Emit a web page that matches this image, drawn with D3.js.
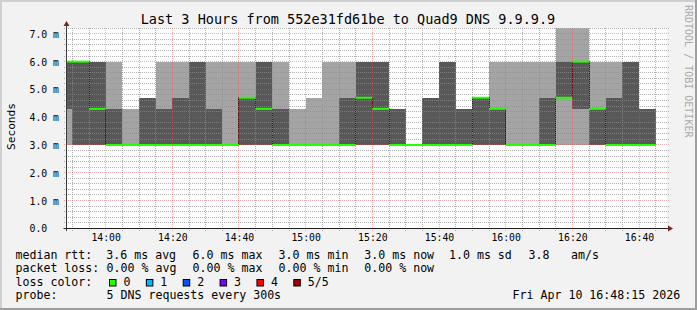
<!DOCTYPE html>
<html>
<head>
<meta charset="utf-8">
<script src="https://cdn.jsdelivr.net/npm/d3@7"></script>
<style>
    body { margin: 0; background: #f2f2f2; }
    svg { display: block; }
    text { font-family: "DejaVu Sans Mono", monospace; fill: #000; }
</style>
</head>
<body>
<div id="chart"></div>
<script>

// 5 minute bins (start time), the five sorted DNS request times in ms
const binStarts = ["13:45","13:50","13:55","14:00","14:05","14:10","14:15","14:20","14:25","14:30",
                   "14:35","14:40","14:45","14:50","14:55","15:00","15:05","15:10","15:15","15:20",
                   "15:25","15:30","15:35","15:40","15:45","15:50","15:55","16:00","16:05","16:10",
                   "16:15","16:20","16:25","16:30","16:35","16:40"]
const pingMin  = [3,3,3,3,3,3,3,3,3,3, 3,3,3,3,3,3,3,3,3,3, 3,3,3,3,3,3,3,3,3,3, 3,3,3,3,3,3]
const pingLow  = [4.3,3,3,3,3,3,3,3,3,3, 3,3,3,3,3,3,3,3,3,3, 3,3,3,3,3,3,3,3,3,3, 4.7,4.3,3,3,3,3]
const median   = [6,6,4.3,3,3,3,3,3,3,3, 3,4.7,4.3,3,3,3,3,3,4.7,4.3, 3,3,3,3,3,4.7,4.3,3,3,3, 4.7,6,4.3,3,3,3]
const pingHigh = [6,6,6,4.3,3,4.7,4.3,4.7,6,4.3, 3,4.7,6,4.3,3,3,3,4.7,6,6, 4.3,3,4.7,6,4.3,4.7,4.3,3,3,4.7, 6,6,4.3,4.7,6,4.3]
const pingMax  = [6,6,6,6,4.3,4.7,6,6,6,6, 6,6,6,6,4.3,4.7,6,6,6,6, 4.3,3,4.7,6,4.3,4.7,6,6,6,6, 7.2,7.2,6,6,6,4.3]

const yLabelValues = [0,1,2,3,4,5,6,7]
const xLabelTimes = ["14:00","14:20","14:40","15:00","15:20","15:40","16:00","16:20","16:40"]

const titleText = "Last 3 Hours from 552e31fd61be to Quad9 DNS 9.9.9.9"
const rttStats = ["3.6 ms avg", "6.0 ms max", "3.0 ms min", "3.0 ms now", "1.0 ms sd", "3.8", "am/s"]
const lossStats = ["0.00 % avg", "0.00 % max", "0.00 % min", "0.00 % now"]
const lossLabels = ["0", "1", "2", "3", "4", "5/5"]
const lossColors = ["#26ff00", "#00b8ff", "#0059ff", "#7e00ff", "#ff0000", "#a10000"]
const probeText = "5 DNS requests every 300s"
const stampText = "Fri Apr 10 16:48:15 2026"

// layout
const rttX = [106.3, 192.6, 278.6, 364.3, 449, 528.6, 571]
const lossX = [106.6, 192.6, 278.6, 364.3]
const rowY = [258.5, 272, 285.5, 299]

const timeOf = s => {
    let [h, m] = s.split(":").map(Number)
    return new Date(2026, 3, 10, h, m)
}

const W = 697, H = 310
const svg = d3.select("#chart").append("svg")
    .attr("width", W)
    .attr("height", H)

// background + 3d frame
svg.append("rect").attr("width", W).attr("height", H).attr("fill", "#f2f2f2")
svg.append("rect").attr("width", W).attr("height", 2).attr("fill", "#cfcfcf")
svg.append("rect").attr("width", 2).attr("height", H).attr("fill", "#cfcfcf")
svg.append("rect").attr("y", H - 2).attr("width", W).attr("height", 2).attr("fill", "#9e9e9e")
svg.append("rect").attr("x", W - 2).attr("width", 2).attr("height", H).attr("fill", "#9e9e9e")

// plot box
const pLeft = 66.5, pRight = 666.5, pTop = 28.3, pBottom = 228.3

// scales
let x = d3.scaleTime()
    .domain([new Date(2026, 3, 10, 13, 48, 15), new Date(2026, 3, 10, 16, 48, 15)])
    .range([pLeft, pRight])
let y = d3.scaleLinear()
    .domain([0, 7.2])
    .range([pBottom, pTop])

// canvas
svg.append("rect")
    .attr("x", 66).attr("y", 28)
    .attr("width", 601).attr("height", 201)
    .attr("fill", "#ffffff")

svg.append("clipPath").attr("id", "plotClip")
    .append("rect")
    .attr("x", pLeft).attr("y", pTop)
    .attr("width", pRight - pLeft).attr("height", pBottom - pTop)

let plot = svg.append("g").attr("clip-path", "url(#plotClip)")

let bins = binStarts.map((s, i) => ({
    t0: timeOf(s),
    t1: d3.timeMinute.offset(timeOf(s), 5),
    min: pingMin[i], low: pingLow[i], med: median[i], high: pingHigh[i], max: pingMax[i]
}))

// outer smoke (min..max)
plot.selectAll(".smoke-outer")
    .data(bins)
    .enter()
    .append("rect")
    .attr("class", "smoke-outer")
    .attr("x", d => x(d.t0))
    .attr("width", d => x(d.t1) - x(d.t0))
    .attr("y", d => y(d.max))
    .attr("height", d => y(d.min) - y(d.max))
    .attr("fill", "#a4a4a4")
    .attr("shape-rendering", "crispEdges")

// inner smoke (2nd..4th)
plot.selectAll(".smoke-inner")
    .data(bins)
    .enter()
    .append("rect")
    .attr("class", "smoke-inner")
    .attr("x", d => x(d.t0))
    .attr("width", d => x(d.t1) - x(d.t0))
    .attr("y", d => y(d.high))
    .attr("height", d => y(d.low) - y(d.high))
    .attr("fill", "#585858")
    .attr("shape-rendering", "crispEdges")

// median step line
let stepPts = bins.map(d => [d.t0, d.med])
stepPts.push([bins[bins.length - 1].t1, bins[bins.length - 1].med])
plot.append("path")
    .datum(stepPts)
    .attr("fill", "none")
    .attr("stroke", "#202020")
    .attr("stroke-width", 1)
    .attr("d", d3.line().x(d => Math.floor(x(d[0])) + 0.5).y(d => y(d[1])).curve(d3.curveStepAfter))

// grid
let grid = svg.append("g")
let minorTimes = x.ticks(d3.timeMinute.every(5)).filter(t => t.getMinutes() % 20 !== 0)
let majorTimes = x.ticks(d3.timeMinute.every(20))
let minorVals = d3.range(1, 37).map(k => k * 0.2).filter(v => Math.abs(v - Math.round(v)) > 0.01)
let majorVals = d3.range(1, 8)
const minorCol = "rgba(143,143,143,0.7)", majorCol = "rgba(222,79,79,0.45)"

grid.selectAll(".vminor").data(minorTimes).enter().append("line")
    .attr("x1", d => Math.floor(x(d)) + 0.5).attr("x2", d => Math.floor(x(d)) + 0.5)
    .attr("y1", 28).attr("y2", 231)
    .attr("stroke", minorCol).attr("stroke-dasharray", "1,1")
grid.selectAll(".hminor").data(minorVals).enter().append("line")
    .attr("y1", d => Math.floor(y(d)) + 0.5).attr("y2", d => Math.floor(y(d)) + 0.5)
    .attr("x1", 64).attr("x2", 669)
    .attr("stroke", minorCol).attr("stroke-dasharray", "1,1")
grid.selectAll(".vmajor").data(majorTimes).enter().append("line")
    .attr("x1", d => Math.floor(x(d)) + 0.5).attr("x2", d => Math.floor(x(d)) + 0.5)
    .attr("y1", 28).attr("y2", 231)
    .attr("stroke", majorCol).attr("stroke-dasharray", "1,1")
grid.selectAll(".hmajor").data(majorVals).enter().append("line")
    .attr("y1", d => Math.floor(y(d)) + 0.5).attr("y2", d => Math.floor(y(d)) + 0.5)
    .attr("x1", 64).attr("x2", 669)
    .attr("stroke", majorCol).attr("stroke-dasharray", "1,1")

// median (loss colour), on top of the grid
let medLayer = svg.append("g").attr("clip-path", "url(#plotClip)")
medLayer.selectAll(".median")
    .data(bins)
    .enter()
    .append("rect")
    .attr("class", "median")
    .attr("x", d => x(d.t0))
    .attr("width", d => x(d.t1) - x(d.t0))
    .attr("y", d => y(d.med) - 1)
    .attr("height", 2)
    .attr("fill", lossColors[0])

// axes lines + arrows
svg.append("line")
    .attr("x1", pLeft - 3).attr("x2", pRight + 3)
    .attr("y1", 228.5).attr("y2", 228.5)
    .attr("stroke", "#1f1f1f")
svg.append("line")
    .attr("x1", pLeft).attr("x2", pLeft)
    .attr("y1", 231).attr("y2", 24)
    .attr("stroke", "#3a3a3a")
svg.append("path")
    .attr("d", `M${pRight + 1.5},225.5L${pRight + 1.5},231.5L${pRight + 6.5},228.5Z`)
    .attr("fill", "#801f1f")
svg.append("path")
    .attr("d", `M${pLeft - 3},26L${pLeft + 3},26L${pLeft},21Z`)
    .attr("fill", "#801f1f")

// x axis labels
let xAxis = d3.axisBottom(x)
    .tickValues(xLabelTimes.map(timeOf))
    .tickFormat(d3.timeFormat("%H:%M"))
    .tickSize(0)
let gx = svg.append("g")
    .attr("transform", "translate(0,228.5)")
    .call(xAxis)
gx.select(".domain").remove()
gx.selectAll("text")
    .attr("y", 12.5).attr("dy", 0)
    .style("font-family", "DejaVu Sans Mono")
    .style("font-size", "9.8px")

// y axis labels
let yAxis = d3.axisLeft(y)
    .tickValues(yLabelValues)
    .tickFormat(d => d === 0 ? "0.0" : d.toFixed(1) + " m")
    .tickSize(0)
let gy = svg.append("g")
    .attr("transform", `translate(${pLeft},0)`)
    .call(yAxis)
gy.select(".domain").remove()
gy.selectAll("text")
    .attr("text-anchor", "start")
    .attr("x", 29.5 - pLeft)
    .attr("dy", 0)
    .attr("y", 3.5)
    .style("font-family", "DejaVu Sans Mono")
    .style("font-size", "9.8px")

// titles
svg.append("text")
    .attr("x", 348).attr("y", 23.5)
    .attr("text-anchor", "middle")
    .style("font-size", "13.5px")
    .text(titleText)

svg.append("text")
    .attr("transform", "translate(15,126.5) rotate(-90)")
    .attr("text-anchor", "middle")
    .style("font-size", "11.2px")
    .text("Seconds")

svg.append("text")
    .attr("transform", "translate(685,5) rotate(90)")
    .style("font-size", "10px")
    .style("fill", "#aaaaaa")
    .text("RRDTOOL / TOBI OETIKER")

// legend
let legend = svg.append("g").style("font-size", "11.6px")

legend.append("text").attr("x", 15.5).attr("y", rowY[0]).text("median rtt:")
legend.selectAll(".rtt").data(rttStats).enter().append("text")
    .attr("x", (d, i) => rttX[i]).attr("y", rowY[0]).text(d => d)

legend.append("text").attr("x", 15.5).attr("y", rowY[1]).text("packet loss:")
legend.selectAll(".loss").data(lossStats).enter().append("text")
    .attr("x", (d, i) => lossX[i]).attr("y", rowY[1]).text(d => d)

legend.append("text").attr("x", 15.5).attr("y", rowY[2]).text("loss color:")
let swatch = legend.selectAll(".swatch").data(lossLabels).enter().append("g")
    .attr("transform", (d, i) => `translate(${109 + i * 36.86},0)`)
swatch.append("rect")
    .attr("x", 0.5).attr("y", 279.5)
    .attr("width", 6.5).attr("height", 6.5)
    .attr("fill", (d, i) => lossColors[i])
    .attr("stroke", "#000")
swatch.append("text")
    .attr("x", 14.5).attr("y", rowY[2])
    .text(d => d)

legend.append("text").attr("x", 15.5).attr("y", rowY[3]).text("probe:")
legend.append("text").attr("x", 106.6).attr("y", rowY[3]).text(probeText)
legend.append("text").attr("x", 512.6).attr("y", rowY[3]).text(stampText)

</script>
</body>
</html>
